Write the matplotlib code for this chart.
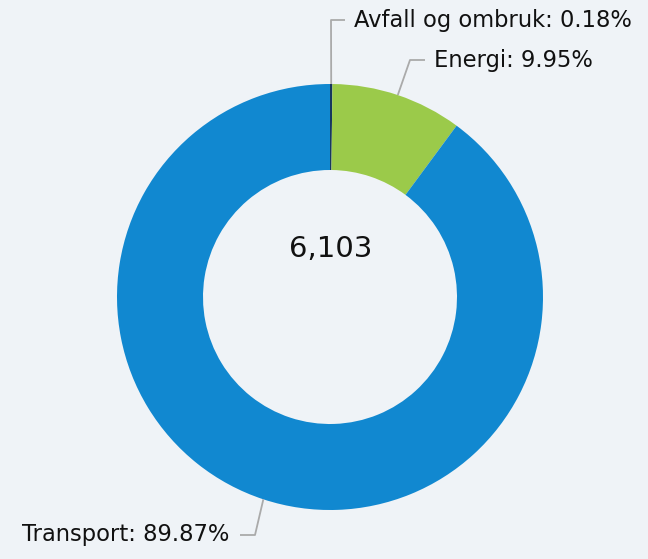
import numpy as np
import matplotlib.pyplot as plt

# === Dados ===
categorias = ["Avfall og ombruk", "Energi", "Transport"]
andeler = [0.18, 9.95, 89.87]
total = "6,103"
cores = ["#17375e", "#9bca4a", "#1188d0"]

fundo = "#eff3f7"

fig = plt.figure(figsize=(6.48, 5.59), dpi=100, facecolor=fundo)
ax = fig.add_axes([0, 0, 1, 1])
ax.set_facecolor(fundo)

cx, cy, r = 330, 262, 213
ax.pie(andeler, colors=cores, startangle=90, counterclock=False,
       center=(cx, cy), radius=r, frame=True,
       wedgeprops=dict(width=86, edgecolor="none"))
ax.set_xlim(0, 648)
ax.set_ylim(0, 559)
ax.set_aspect("equal")
ax.axis("off")

ax.text(cx + 1, 310, total, ha="center", va="center", fontsize=21, color="#111111")

# === Rótulos com linhas guia ===
# (ponto de dobra, fim da linha horizontal, alinhamento)
guias = [((331, 539), (345, 539), "left"),
         ((410, 499), (425, 499), "left"),
         ((255, 24), (240, 24), "right")]

inicio = 90
for nome, valor, (dobra, fim, alinh) in zip(categorias, andeler, guias):
    meio = np.deg2rad(inicio - valor * 3.6 / 2)
    inicio -= valor * 3.6
    px = cx + r * np.cos(meio)
    py = cy + r * np.sin(meio)
    ax.plot([px, dobra[0], fim[0]], [py, dobra[1], fim[1]],
            color="#aaaaaa", lw=1.3, solid_capstyle="butt")
    dx = 9 if alinh == "left" else -11
    ax.text(fim[0] + dx, fim[1], f"{nome}: {valor:.2f}%", ha=alinh,
            va="center", fontsize=16.3, color="#111111")

fig.savefig("out.png", dpi=100, facecolor=fundo)
